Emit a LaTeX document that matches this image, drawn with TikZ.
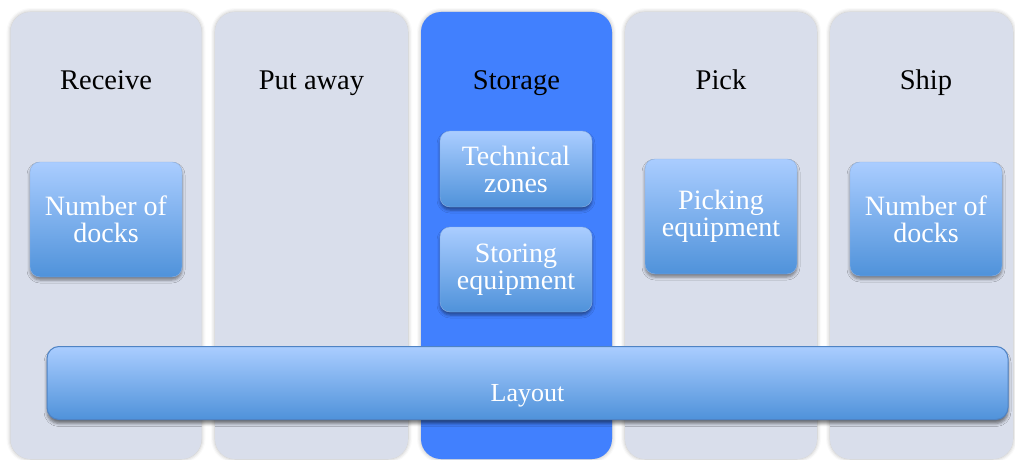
\documentclass[tikz,border=0pt]{standalone}
\usepackage{fontspec}
\setmainfont{Liberation Serif}
\usetikzlibrary{shadows.blur}

\definecolor{lanefill}{HTML}{D9DEEB}
\definecolor{lanehot}{HTML}{4180FE}
\definecolor{boxtop}{HTML}{AACDFF}
\definecolor{boxbot}{HTML}{4F92DA}
\definecolor{boxedge}{HTML}{8DB2E4}
\definecolor{baredge}{HTML}{4F83C4}

\tikzset{
  lane/.style={fill=lanefill, rounded corners=20pt, inner sep=0pt,
    blur shadow={shadow xshift=0pt, shadow yshift=0pt,
      shadow blur radius=4pt, shadow opacity=30}},
  lanetitle/.style={font=\fontsize{28.5}{30}\selectfont, text=black,
    inner sep=0pt, anchor=base},
  topic/.style={rounded corners=10pt, top color=boxtop, bottom color=boxbot,
    draw=boxedge, line width=0.4pt, minimum width=152pt, inner sep=0pt,
    align=center, text=white, font=\fontsize{28}{27}\selectfont,
    blur shadow={shadow xshift=0pt, shadow yshift=-3pt,
      shadow blur radius=3pt, shadow opacity=45}},
  bar/.style={rounded corners=12pt, top color=boxtop, bottom color=boxbot,
    draw=baredge, line width=1pt, inner sep=0pt,
    blur shadow={shadow xshift=0pt, shadow yshift=-4pt,
      shadow blur radius=3pt, shadow opacity=50}},
  bartext/.style={text=white, font=\fontsize{26}{26}\selectfont,
    inner sep=0pt, anchor=base}
}

\begin{document}
\begin{tikzpicture}[x=1pt,y=-1pt]
  \useasboundingbox (0,0) rectangle (1015,460);

  % process lanes
  \node[lane, minimum width=191pt, minimum height=447pt] (receive) at (106,235.5) {};
  \node[lane, minimum width=193pt, minimum height=447pt] (putaway) at (311.5,235.5) {};
  \node[lane, fill=lanehot, minimum width=191pt, minimum height=447pt] (storage) at (516.5,235.5) {};
  \node[lane, minimum width=192pt, minimum height=447pt] (pick) at (721,235.5) {};
  \node[lane, minimum width=183pt, minimum height=447pt] (ship) at (921.5,235.5) {};

  % lane titles
  \node[lanetitle] (t1) at (106,89) {Receive};
  \node[lanetitle] (t2) at (311.5,89) {Put away};
  \node[lanetitle] (t3) at (516.5,89) {Storage};
  \node[lanetitle] (t4) at (721,89) {Pick};
  \node[lanetitle] (t5) at (926,89) {Ship};

  % design factors per lane
  \node[topic, minimum height=115pt] (docksin) at (106,219.5) {Number of\\docks};
  \node[topic, minimum height=76pt] (zones) at (516,169) {Technical\\zones};
  \node[topic, minimum height=85pt] (storeq) at (516,269.5) {Storing\\equipment};
  \node[topic, minimum height=115pt] (pickeq) at (721,216.5) {Picking\\equipment};
  \node[topic, minimum height=114pt] (docksout) at (926,219) {Number of\\docks};

  % shared layout bar
  \node[bar, minimum width=961pt, minimum height=73pt] (layout) at (527.5,383) {};
  \node[bartext] (layouttext) at (527.5,401) {Layout};
\end{tikzpicture}
\end{document}
